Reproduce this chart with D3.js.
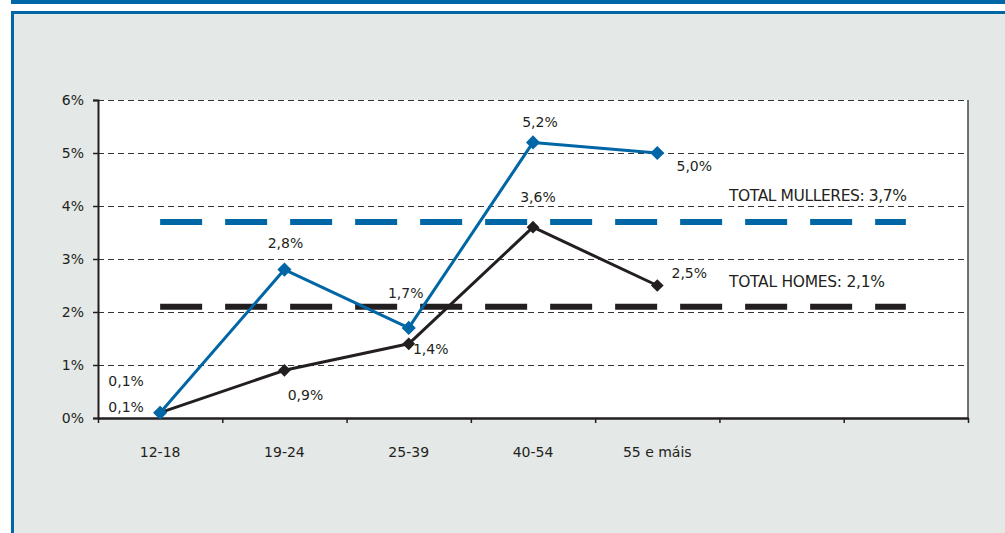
<!DOCTYPE html>
<html>
<head>
<meta charset="utf-8">
<script src="https://cdn.jsdelivr.net/npm/d3@7/dist/d3.min.js"></script>
<style>
  html, body { margin: 0; padding: 0; background: #ffffff; }
  svg { display: block; }
  text { font-family: "DejaVu Sans", "Noto Sans", sans-serif; font-size: 14px; fill: #231f20; }
</style>
</head>
<body>
<svg id="chart" width="1005" height="533"></svg>
<script>
// Age groups (two empty slots keep the axis running to the right edge)
const categories = ["12-18", "19-24", "25-39", "40-54", "55 e máis", "", ""];

// Percentages by age group
const mulleres = [0.1, 2.8, 1.7, 5.2, 5.0];
const homes    = [0.1, 0.9, 1.4, 3.6, 2.5];

// Overall totals, drawn across the whole span
const totalMulleres = 3.7;
const totalHomes    = 2.1;

const yTicks = [0, 1, 2, 3, 4, 5, 6];

const BLUE = "#0066a6";
const DARK = "#231f20";

// Label offsets (px) from each point
const mullOffsets = [[-34, -32], [1, -27], [-3, -35], [7, -20], [37, 13]];
const homeOffsets = [[-34, -6], [21, 25], [22, 5], [5, -30], [32, -12]];

const fmt = v => d3.format(".1f")(v).replace(".", ",") + "%";

const svg = d3.select("#chart");

// Page frame
svg.append("rect").attr("x", 11).attr("y", 0).attr("width", 1000).attr("height", 4).attr("fill", BLUE);
svg.append("rect").attr("x", 12.5).attr("y", 12.5).attr("width", 1010).attr("height", 540)
  .attr("fill", "#e4e8e6").attr("stroke", BLUE).attr("stroke-width", 3);

const plotLeft = 98, plotRight = 968, plotTop = 100, plotBottom = 418;

const x = d3.scaleLinear().domain([0, categories.length]).range([plotLeft, plotRight]);
const y = d3.scaleLinear().domain([0, 6]).range([plotBottom, plotTop]);
const cx = i => x(i + 0.5);

// Plot area
svg.append("rect").attr("x", plotLeft).attr("y", plotTop)
  .attr("width", plotRight - plotLeft).attr("height", plotBottom - plotTop)
  .attr("fill", "#ffffff");

// Dashed gridlines
svg.append("g").selectAll("line").data(yTicks.filter(d => d > 0)).join("line")
  .attr("x1", plotLeft).attr("x2", plotRight)
  .attr("y1", d => y(d) + 0.5).attr("y2", d => y(d) + 0.5)
  .attr("stroke", "#333").attr("stroke-width", 1).attr("stroke-dasharray", "6,4")
  .attr("shape-rendering", "crispEdges");

// Right border
svg.append("line").attr("x1", plotRight).attr("x2", plotRight).attr("y1", plotTop).attr("y2", plotBottom)
  .attr("stroke", "#444").attr("stroke-width", 1.5);

// Y axis
const yAxis = svg.append("g").attr("transform", `translate(${plotLeft},0)`)
  .call(d3.axisLeft(y).tickValues(yTicks).tickFormat(d => d + "%").tickSize(5).tickPadding(9));
yAxis.select(".domain").attr("stroke", DARK).attr("stroke-width", 2);
yAxis.selectAll(".tick line").attr("stroke", DARK).attr("stroke-width", 1.5);
yAxis.selectAll("text").style("font-size", "14px").attr("fill", DARK)
  .style("font-family", "'DejaVu Sans', sans-serif");

// X axis
const xAxis = svg.append("g").attr("transform", `translate(0,${plotBottom})`)
  .call(d3.axisBottom(x).tickValues(d3.range(categories.length + 1)).tickFormat("").tickSize(5).tickSizeOuter(0));
xAxis.select(".domain").attr("stroke", DARK).attr("stroke-width", 2.5);
xAxis.selectAll(".tick line").attr("stroke", DARK).attr("stroke-width", 1.5);

svg.append("g").selectAll("text").data(categories).join("text")
  .attr("x", (d, i) => cx(i)).attr("y", 452).attr("dy", "0.35em")
  .attr("text-anchor", "middle").text(d => d);

// Total reference lines
const totalLine = (v, color) => svg.append("line")
  .attr("x1", cx(0)).attr("x2", cx(categories.length - 1))
  .attr("y1", y(v)).attr("y2", y(v))
  .attr("stroke", color).attr("stroke-width", 6).attr("stroke-dasharray", "42,23");
totalLine(totalMulleres, BLUE);
totalLine(totalHomes, DARK);

svg.append("text").attr("x", 729).attr("y", y(totalMulleres) - 26).attr("dy", "0.35em")
  .style("font-size", "15.5px").attr("textLength", 178).attr("lengthAdjust", "spacing")
  .text("TOTAL MULLERES: " + fmt(totalMulleres));
svg.append("text").attr("x", 729).attr("y", y(totalHomes) - 25).attr("dy", "0.35em")
  .style("font-size", "15.5px").attr("textLength", 156).attr("lengthAdjust", "spacing")
  .text("TOTAL HOMES: " + fmt(totalHomes));

// Series lines with diamond markers
const line = d3.line().x((d, i) => cx(i)).y(d => y(d));

function drawSeries(values, color, side, offsets) {
  svg.append("path").datum(values).attr("d", line)
    .attr("fill", "none").attr("stroke", color).attr("stroke-width", 3).attr("stroke-linejoin", "round");
  svg.append("g").selectAll("path").data(values).join("path")
    .attr("d", d3.symbol(d3.symbolSquare, side * side))
    .attr("transform", (d, i) => `translate(${cx(i)},${y(d)}) rotate(45)`)
    .attr("fill", color);
  svg.append("g").selectAll("text").data(values).join("text")
    .attr("x", (d, i) => cx(i) + offsets[i][0])
    .attr("y", (d, i) => y(d) + offsets[i][1])
    .attr("dy", "0.35em").attr("text-anchor", "middle")
    .text(d => fmt(d));
}

drawSeries(homes, DARK, 9, homeOffsets);
drawSeries(mulleres, BLUE, 10, mullOffsets);
</script>
</body>
</html>
